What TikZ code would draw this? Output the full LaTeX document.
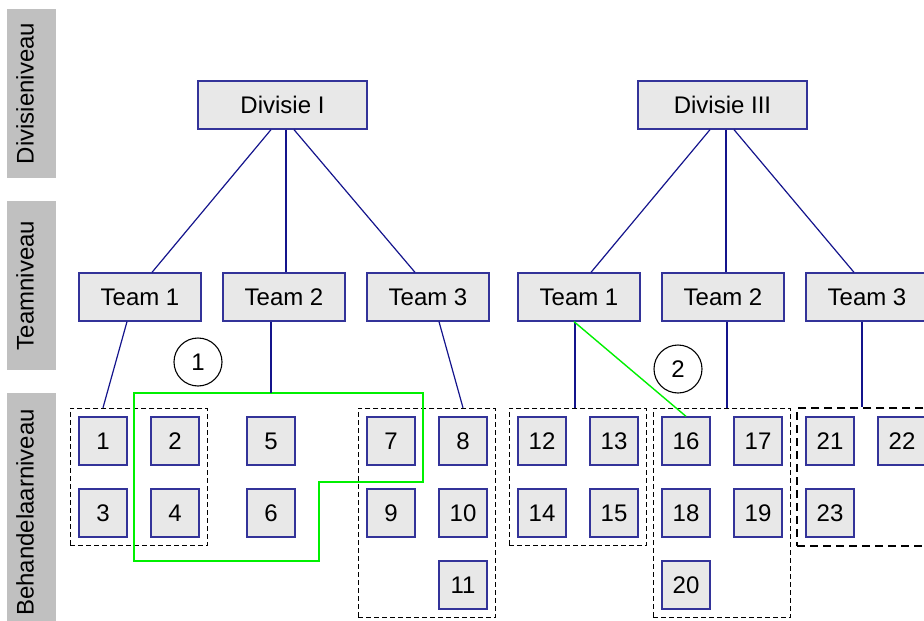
\documentclass[tikz,border=0pt]{standalone}
\usepackage{fontspec}
\setmainfont{Liberation Sans}
\usetikzlibrary{calc,fit}
\definecolor{boxfill}{RGB}{232,232,232}
\definecolor{boxline}{RGB}{51,51,153}
\definecolor{linkcol}{RGB}{20,20,140}
\definecolor{barfill}{RGB}{192,192,192}
\definecolor{grn}{RGB}{0,240,0}
\tikzset{
  unit/.style={draw=boxline, fill=boxfill, line width=1.3pt, inner sep=0pt,
    font=\fontsize{24}{28}\selectfont},
  divbox/.style={unit, minimum width=169pt, minimum height=48pt},
  teambox/.style={unit, minimum width=122pt, minimum height=48pt},
  person/.style={unit, minimum width=48pt, minimum height=48pt},
  link/.style={draw=linkcol, line width=1.2pt},
  group/.style={draw=black, dash pattern=on 5pt off 3pt, line width=1.2pt, inner sep=8pt},
  groupbold/.style={draw=black, dash pattern=on 8pt off 5pt, line width=2pt, inner sep=8pt},
  bar/.style={fill=barfill, draw=none, minimum width=49pt, inner sep=0pt},
  barlabel/.style={rotate=90, font=\fontsize{24}{28}\selectfont, inner sep=0pt},
  numcircle/.style={circle, draw=black, line width=1.1pt, minimum size=48pt, inner sep=0pt,
    font=\fontsize{24}{28}\selectfont},
  greenline/.style={draw=grn, line width=1.4pt}
}
\begin{document}
\begin{tikzpicture}[x=1pt, y=-1pt]
\clip (0,0) rectangle (924,621);
% level bars
\node[bar, minimum height=169pt] (bar1) at (31.5,93.5) {};
\node[bar, minimum height=169pt] (bar2) at (31.5,285.5) {};
\node[bar, minimum height=239pt] (bar3) at (31.5,512.5) {};
\node[barlabel] (lab1) at ($(bar1.center)+(-6.5,0)$) {Divisieniveau};
\node[barlabel] (lab2) at ($(bar2.center)+(-6.5,0)$) {Teamniveau};
\node[barlabel] (lab3) at ($(bar3.center)+(-6.5,0)$) {Behandelaarniveau};

% divisions
\node[divbox] (d1) at (282.5,105) {Divisie I};
\node[divbox] (d3) at (722.5,105) {Divisie III};

% teams
\node[teambox] (t1a) at (140,297) {Team 1};
\node[teambox] (t2a) at (284,297) {Team 2};
\node[teambox] (t3a) at (428,297) {Team 3};
\node[teambox] (t1b) at (579,297) {Team 1};
\node[teambox] (t2b) at (723,297) {Team 2};
\node[teambox] (t3b) at (867,297) {Team 3};

% persons
\node[person] (b1) at (103,441) {1};
\node[person] (b2) at (175,441) {2};
\node[person] (b3) at (103,513) {3};
\node[person] (b4) at (175,513) {4};
\node[person] (b5) at (271,441) {5};
\node[person] (b6) at (271,513) {6};
\node[person] (b7) at (391,441) {7};
\node[person] (b8) at (463,441) {8};
\node[person] (b9) at (391,513) {9};
\node[person] (b10) at (463,513) {10};
\node[person] (b11) at (463,585) {11};
\node[person] (b12) at (542,441) {12};
\node[person] (b13) at (614,441) {13};
\node[person] (b14) at (542,513) {14};
\node[person] (b15) at (614,513) {15};
\node[person] (b16) at (686,441) {16};
\node[person] (b17) at (758,441) {17};
\node[person] (b18) at (686,513) {18};
\node[person] (b19) at (758,513) {19};
\node[person] (b20) at (686,585) {20};
\node[person] (b21) at (830,441) {21};
\node[person] (b22) at (902,441) {22};
\node[person] (b23) at (830,513) {23};

% groups
\node[group, fit=(b1)(b4)] (g1) {};
\node[group, fit=(b7)(b11)] (g3) {};
\node[group, fit=(b12)(b15)] (g4) {};
\node[group, fit=(b16)(b19)(b20)] (g5) {};
\node[groupbold, fit=(b21)(b22)(b23)] (g6) {};

% green outline (team 2 group)
\coordinate (p1) at (134,393);
\coordinate (p2) at (423,393);
\coordinate (p3) at (423,482);
\coordinate (p4) at (319,482);
\coordinate (p5) at (319,561);
\coordinate (p6) at (134,561);
\draw[greenline] (p1) -- (p2) -- (p3) -- (p4) -- (p5) -- (p6) -- cycle;

% division -> team links
\draw[link] ($(d1.south)+(-11.5,0)$) -- ($(t1a.north)+(12,0)$);
\draw[link] ($(d1.south)+(3.5,0)$) -- ($(t2a.north)+(2,0)$);
\draw[link] ($(d1.south)+(11.5,0)$) -- ($(t3a.north)+(-13,0)$);
\draw[link] ($(d3.south)+(-12.5,0)$) -- ($(t1b.north)+(12,0)$);
\draw[link] ($(d3.south)+(3.5,0)$) -- ($(t2b.north)+(3,0)$);
\draw[link] ($(d3.south)+(11.5,0)$) -- ($(t3b.north)+(-13,0)$);

% team -> group links
\coordinate (s1b) at ($(t1b.south)+(-4,0)$);
\coordinate (s2b) at ($(t2b.south)+(4,0)$);
\coordinate (s3b) at ($(t3b.south)+(-5,0)$);
\draw[link] ($(t1a.south)+(-13,0)$) -- (b1 |- g1.north);
\draw[link] (b5 |- t2a.south) -- (b5 |- p1);
\draw[link] ($(t3a.south)+(11,0)$) -- (b8 |- g3.north);
\draw[link] (s1b) -- (s1b |- g4.north);
\draw[link] (s2b) -- (s2b |- g5.north);
\draw[link] (s3b) -- (s3b |- g6.north);

% green link
\draw[greenline] ($(t1b.south)+(-5,0)$) -- (b16.north);

% numbered markers
\node[numcircle] (c1) at (198,362) {1};
\node[numcircle] (c2) at (678,369) {2};
\end{tikzpicture}
\end{document}
